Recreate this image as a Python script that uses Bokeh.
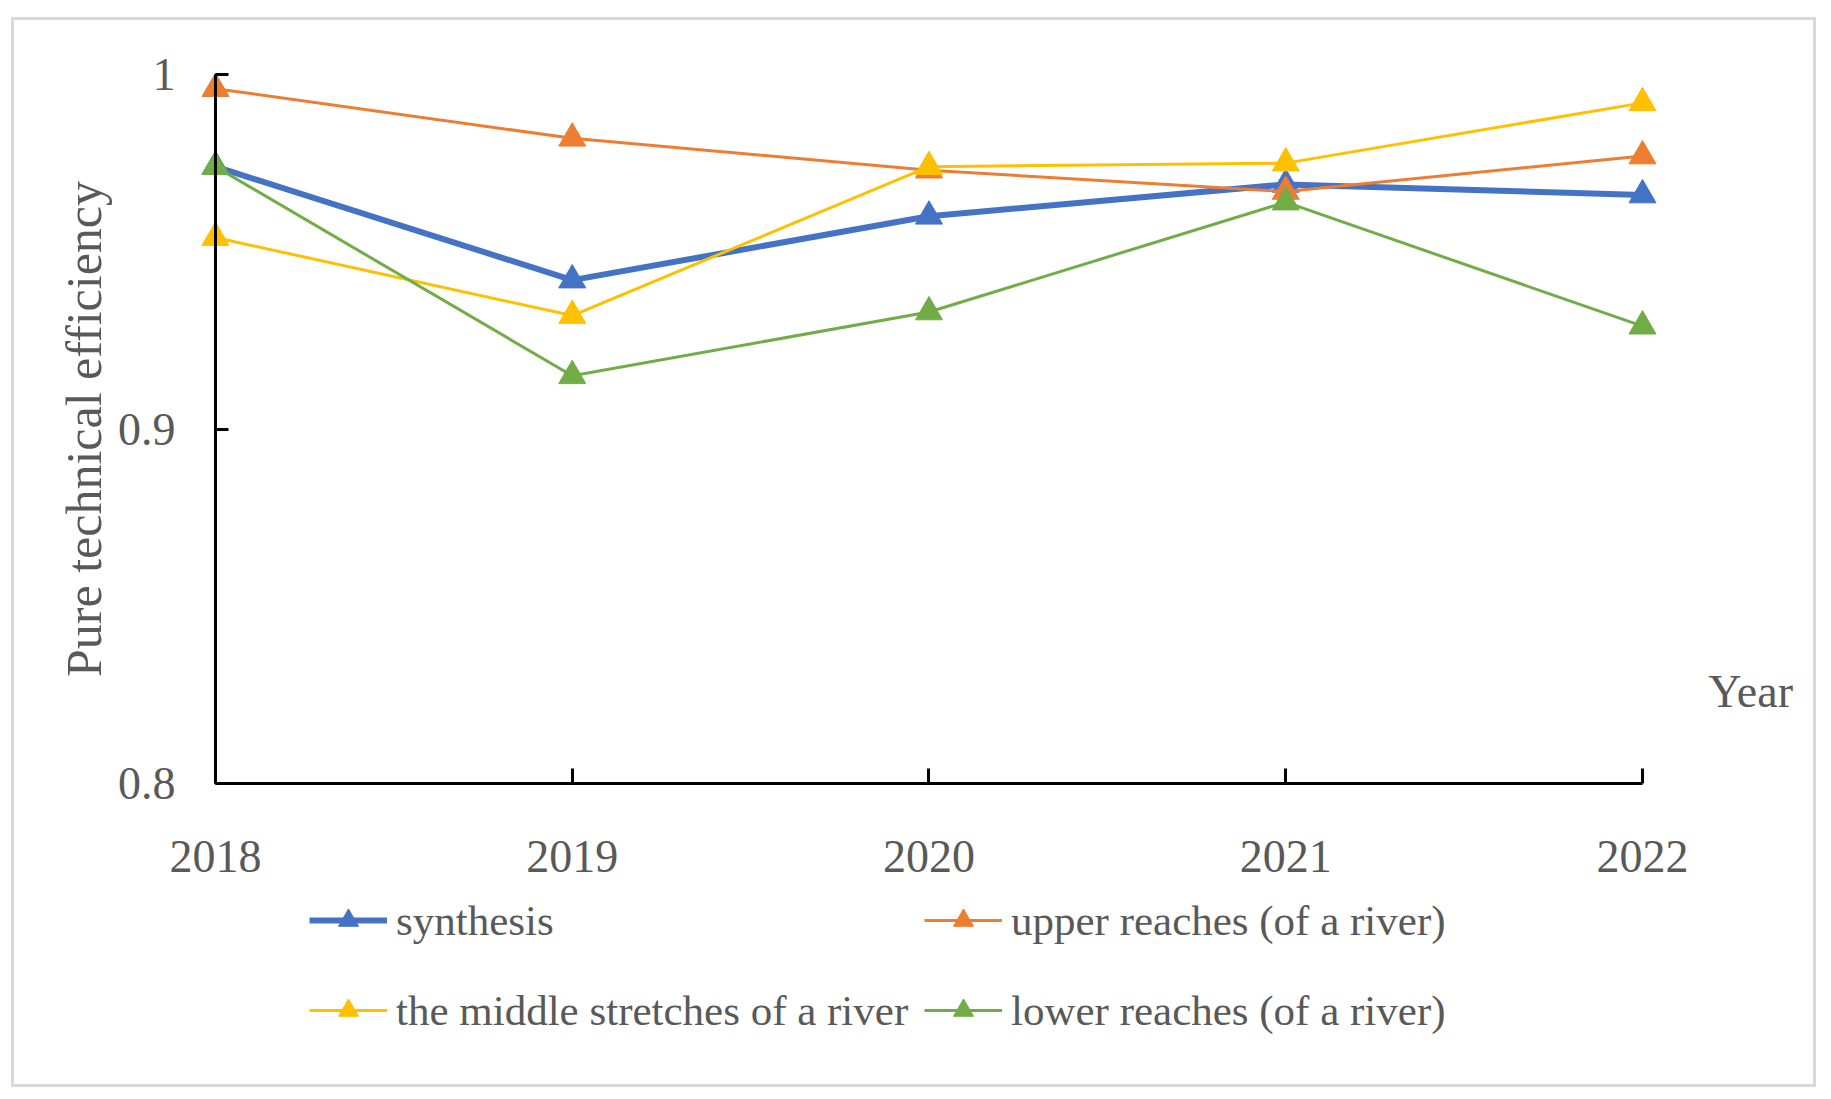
from bokeh.plotting import figure
from bokeh.models import Range1d, FixedTicker, Legend, LegendItem, Label
from bokeh.embed import file_html
from bokeh.resources import INLINE

# ---- data ----
years = [2018, 2019, 2020, 2021, 2022]
synthesis = [0.974, 0.942, 0.960, 0.969, 0.966]
upper_reaches = [0.996, 0.982, 0.973, 0.967, 0.977]
middle_stretches = [0.954, 0.932, 0.974, 0.975, 0.992]
lower_reaches = [0.974, 0.915, 0.933, 0.964, 0.929]
series_names = ["synthesis", "upper reaches (of a river)",
                "the middle stretches of a river", "lower reaches (of a river)"]
y_ticks = [0.8, 0.9, 1.0]
y_tick_labels = ["0.8", "0.9", "1"]
x_title = "Year"
y_title = "Pure technical efficiency"

FONT = "Liberation Serif"
TEXT = "#595959"
colors = ["#4472C4", "#ED7D31", "#FFC000", "#70AD47"]
widths = [6, 3, 3, 3]

W, H = 1805, 1070
p = figure(width=W, height=H,
           x_range=Range1d(2017.43658, 2022.49615), y_range=Range1d(0.71340, 1.015233),
           output_backend="svg", toolbar_location=None,
           min_border_left=0, min_border_right=0,
           min_border_top=0, min_border_bottom=0)
p.styles = {"margin-left": "11px", "margin-top": "17px", "border": "3px solid #d9d9d9"}
p.outline_line_color = None
p.xgrid.grid_line_color = None
p.ygrid.grid_line_color = None
p.background_fill_color = "white"
p.border_fill_color = "white"

xa = p.xaxis[0]
xa.ticker = FixedTicker(ticks=years)
xa.fixed_location = 0.8
xa.bounds = (2018, 2022)
xa.axis_line_color = "black"
xa.axis_line_width = 3
xa.major_tick_in = 15
xa.major_tick_out = 0
xa.major_tick_line_width = 3
xa.major_tick_line_color = "black"
xa.minor_tick_line_color = None
xa.major_label_text_font = FONT
xa.major_label_text_font_size = "46px"
xa.major_label_text_color = TEXT
xa.major_label_standoff = 57

ya = p.yaxis[0]
ya.ticker = FixedTicker(ticks=y_ticks)
ya.major_label_overrides = {t: lab for t, lab in zip(y_ticks, y_tick_labels)}
ya.fixed_location = 2018
ya.bounds = (0.8, 1.0)
ya.axis_line_color = "black"
ya.axis_line_width = 3
ya.major_tick_in = 13
ya.major_tick_out = 0
ya.major_tick_line_width = 3
ya.major_tick_line_color = "black"
ya.minor_tick_line_color = None
ya.major_label_text_font = FONT
ya.major_label_text_font_size = "46px"
ya.major_label_text_color = TEXT
ya.major_label_standoff = 40
ya.axis_label = y_title
ya.axis_label_text_font = FONT
ya.axis_label_text_font_size = "50px"
ya.axis_label_text_font_style = "normal"
ya.axis_label_text_color = TEXT
ya.axis_label_standoff = 3

all_series = [synthesis, upper_reaches, middle_stretches, lower_reaches]
items = []
for name, vals, c, w in zip(series_names, all_series, colors, widths):
    lr = p.line(years, vals, line_color=c, line_width=w)
    sr = p.scatter(years, vals, marker="triangle", size=27, fill_color=c, line_color=c)
    items.append(LegendItem(label=name, renderers=[lr, sr]))

p.add_layout(Label(x=2022.303, y=0.826, text=x_title, text_align="center",
                   text_baseline="middle", text_font=FONT, text_font_size="46px",
                   text_color=TEXT))

for row, vy in ((items[0:2], 145), (items[2:4], 55)):
    lg = Legend(items=row, orientation="horizontal", location=(295, vy),
                padding=0, margin=0, spacing=13, glyph_width=78, glyph_height=50,
                label_standoff=9, label_width=515,
                label_text_font=FONT, label_text_font_size="43px",
                label_text_color=TEXT, border_line_color=None,
                background_fill_alpha=0)
    p.add_layout(lg)

open("out.html", "w").write(file_html(p, INLINE))
